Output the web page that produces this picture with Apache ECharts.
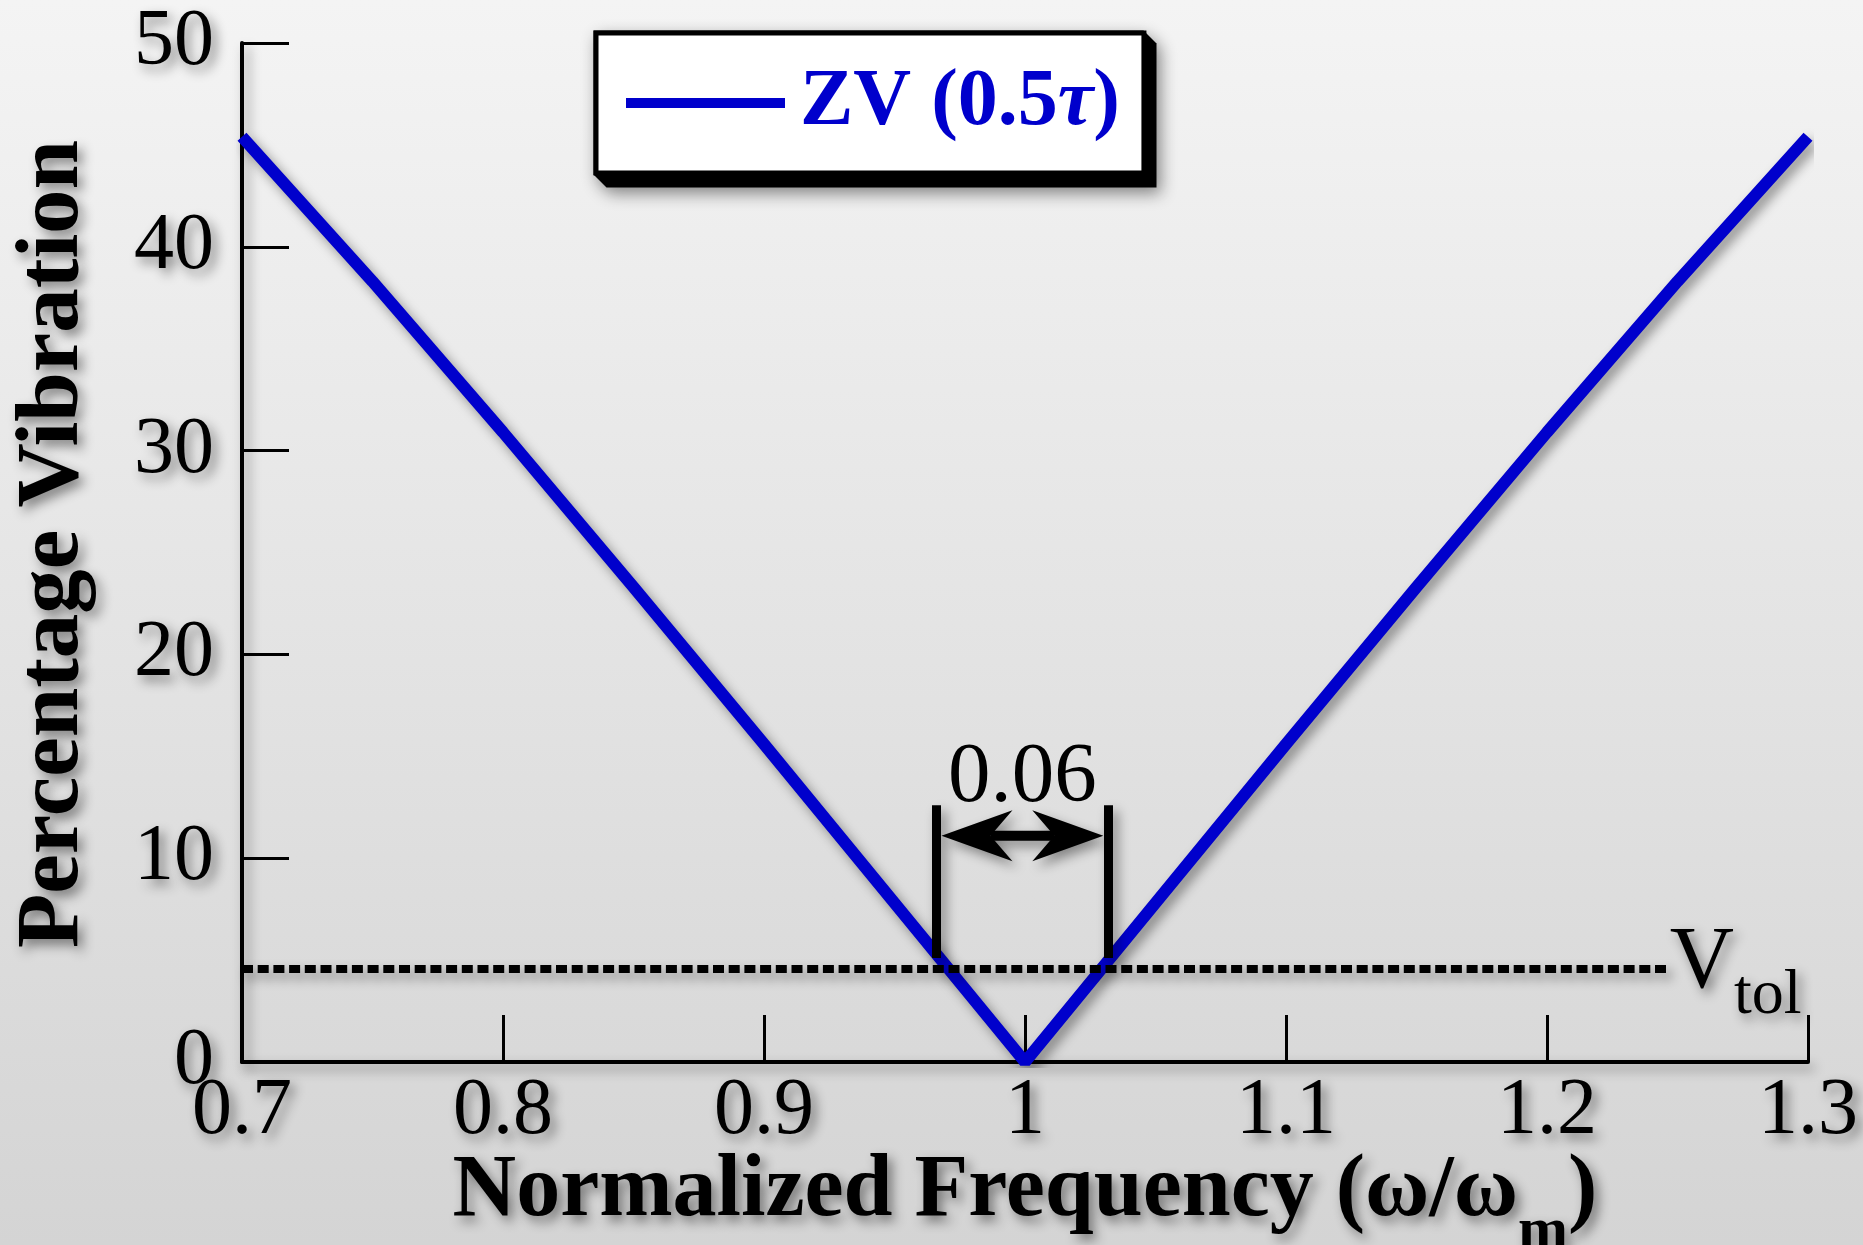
<!DOCTYPE html>
<html>
<head>
<meta charset="utf-8">
<title>ZV residual vibration</title>
<script src="https://cdn.jsdelivr.net/npm/echarts@6/dist/echarts.min.js"></script>
<style>
  html, body { margin: 0; padding: 0; }
  #chart { width: 1863px; height: 1245px; }
</style>
</head>
<body>
<div id="chart"></div>
<script>
// Residual vibration of a ZV input shaper (0.5τ) against normalized frequency
const freq      = [0.70, 0.75, 0.80, 0.85, 0.90, 0.95, 1.00, 1.05, 1.10, 1.15, 1.20, 1.25, 1.30];
const vibration = [45.4, 38.3, 30.9, 23.3, 15.6, 7.8, 0.0, 7.8, 15.6, 23.3, 30.9, 38.3, 45.4];
const seriesName = 'ZV (0.5τ)';

// Vibration tolerance level and the extent of its dashed guide
const vTol = 4.6;
const vTolSpan = [0.70, 1.247];

// Insensitivity band annotation
const bandEdges = [0.966, 1.032];
const bandHeight = [5.1, 12.6];
const arrowTips = [0.968, 1.030];
const arrowLevel = 11.1;
const bandLabel = '0.06';

const BLUE = '#0000cc';
const SERIF = '"Liberation Serif", "Times New Roman", serif';

// Legend box placement and its raised-panel depth
const LEGEND_BOX = { left: 596, top: 33, width: 545, height: 139 };
const LEGEND_DEPTH = 13;

const textShadow = {
  textShadowColor: 'rgba(0,0,0,0.45)',
  textShadowBlur: 12,
  textShadowOffsetX: 5,
  textShadowOffsetY: 6
};
const lineShadow = {
  shadowColor: 'rgba(0,0,0,0.4)',
  shadowBlur: 12,
  shadowOffsetX: 5,
  shadowOffsetY: 6
};

const chart = echarts.init(document.getElementById('chart'));

// Double-headed arrow with notched heads, drawn between two tip positions
function renderArrow(params, api) {
  const a = api.coord([api.value(0), api.value(2)]);
  const b = api.coord([api.value(1), api.value(2)]);
  const headLen = 71, headHalf = 25.5, notch = 49;
  const shade = { shadowColor: 'rgba(0,0,0,0.4)', shadowBlur: 12, shadowOffsetX: 5, shadowOffsetY: 6 };
  const midX = (a[0] + b[0]) / 2;
  return {
    type: 'group',
    children: [
      {
        type: 'line',
        shape: { x1: a[0] + notch, y1: a[1], x2: b[0] - notch, y2: b[1] },
        style: Object.assign({ stroke: '#000', lineWidth: 10 }, shade)
      },
      {
        type: 'polygon',
        shape: { points: [[a[0], a[1]], [a[0] + headLen, a[1] - headHalf], [a[0] + notch, a[1]], [a[0] + headLen, a[1] + headHalf]] },
        style: Object.assign({ fill: '#000' }, shade)
      },
      {
        type: 'polygon',
        shape: { points: [[b[0], b[1]], [b[0] - headLen, b[1] - headHalf], [b[0] - notch, b[1]], [b[0] - headLen, b[1] + headHalf]] },
        style: Object.assign({ fill: '#000' }, shade)
      },
      {
        type: 'text',
        x: midX,
        y: a[1] - 57,
        style: {
          text: bandLabel,
          fontFamily: SERIF,
          fontSize: 85,
          fill: '#000',
          align: 'center',
          verticalAlign: 'middle',
          shadowColor: 'rgba(0,0,0,0.45)',
          shadowBlur: 12,
          shadowOffsetX: 5,
          shadowOffsetY: 6
        }
      }
    ]
  };
}

// Bevelled black extrusion under the legend panel
const lx0 = LEGEND_BOX.left - 2.5, ly0 = LEGEND_BOX.top - 2.5;
const lx1 = LEGEND_BOX.left + LEGEND_BOX.width + 2.5, ly1 = LEGEND_BOX.top + LEGEND_BOX.height + 2.5;
const d = LEGEND_DEPTH;

const option = {
  animation: false,
  backgroundColor: new echarts.graphic.LinearGradient(0, 0, 0, 1, [
    { offset: 0, color: '#f4f4f4' },
    { offset: 1, color: '#d4d4d4' }
  ]),
  grid: { left: 242, right: 55, top: 43, bottom: 183, outerBoundsMode: 'none', containLabel: false },
  graphic: [
    {
      type: 'polygon',
      z: 8,
      silent: true,
      shape: {
        points: [[lx0, ly0], [lx1, ly0], [lx1 + d, ly0 + d], [lx1 + d, ly1 + d], [lx0 + d, ly1 + d], [lx0, ly1]]
      },
      style: { fill: '#000', shadowColor: 'rgba(0,0,0,0.45)', shadowBlur: 16, shadowOffsetX: 4, shadowOffsetY: 6 }
    }
  ],
  legend: {
    left: LEGEND_BOX.left,
    top: LEGEND_BOX.top,
    z: 10,
    padding: [25, 24, 25, 30],
    backgroundColor: '#ffffff',
    borderColor: '#000000',
    borderWidth: 5,
    borderRadius: 0,
    itemWidth: 159,
    itemHeight: 10,
    icon: 'rect',
    selectedMode: false,
    data: [seriesName],
    formatter: () => 'ZV (0.5{tau|τ})',
    textStyle: {
      fontFamily: SERIF,
      fontSize: 80,
      fontWeight: 'bold',
      color: BLUE,
      lineHeight: 90,
      padding: [0, 0, 0, 10],
      rich: {
        tau: { fontFamily: SERIF, fontSize: 80, fontWeight: 'bold', fontStyle: 'italic', color: BLUE, lineHeight: 90 }
      }
    }
  },
  xAxis: {
    type: 'value',
    min: 0.7,
    max: 1.3,
    interval: 0.1,
    axisLine: { show: true, onZero: false, lineStyle: Object.assign({ color: '#000', width: 4 }, lineShadow) },
    axisTick: { show: true, inside: true, length: 47, lineStyle: { color: '#000', width: 3 } },
    splitLine: { show: false },
    axisLabel: Object.assign({
      fontFamily: SERIF, fontSize: 80, color: '#000', margin: 10,
      showMinLabel: true, showMaxLabel: true,
      formatter: v => String(+v.toFixed(2))
    }, textShadow),
    name: 'Normalized Frequency (ω/ω{m|m})',
    nameLocation: 'middle',
    nameGap: 80,
    nameMoveOverlap: false,
    nameTextStyle: Object.assign({
      fontFamily: SERIF, fontSize: 88, fontWeight: 'bold', color: '#000', lineHeight: 100,
      rich: {
        m: Object.assign({ fontFamily: SERIF, fontSize: 60, fontWeight: 'bold', color: '#000', lineHeight: 60, padding: [80, 0, 0, 0] }, textShadow)
      }
    }, textShadow)
  },
  yAxis: {
    type: 'value',
    min: 0,
    max: 50,
    interval: 10,
    axisLine: { show: true, onZero: false, lineStyle: Object.assign({ color: '#000', width: 4 }, lineShadow) },
    axisTick: { show: true, inside: true, length: 47, lineStyle: { color: '#000', width: 3 } },
    splitLine: { show: false },
    axisLabel: Object.assign({
      fontFamily: SERIF, fontSize: 80, color: '#000', margin: 28,
      showMinLabel: true, showMaxLabel: true
    }, textShadow),
    name: 'Percentage Vibration',
    nameLocation: 'middle',
    nameRotate: 90,
    nameGap: 143,
    nameMoveOverlap: false,
    nameTextStyle: Object.assign({
      fontFamily: SERIF, fontSize: 89, fontWeight: 'bold', color: '#000',
      padding: [0, 0, 0, 17]
    }, textShadow)
  },
  series: [
    {
      name: seriesName,
      type: 'line',
      data: freq.map((f, i) => [f, vibration[i]]),
      symbol: 'none',
      showSymbol: false,
      color: BLUE,
      lineStyle: Object.assign({ color: BLUE, width: 12 }, lineShadow),
      z: 2
    },
    {
      // tolerance line and band brackets
      name: 'tolerance',
      type: 'line',
      data: [],
      z: 3,
      markLine: {
        silent: true,
        animation: false,
        symbol: ['none', 'none'],
        lineStyle: Object.assign({ color: '#000', width: 9, type: 'solid' }, lineShadow),
        label: { show: false },
        data: [
          [
            {
              coord: [vTolSpan[0], vTol],
              lineStyle: Object.assign({ color: '#000', width: 8, type: [11, 4.7] }, lineShadow),
              label: {
                show: true,
                position: 'end',
                distance: 0,
                padding: [10, 0, 0, 0],
                formatter: '{v|V}{s|tol}',
                rich: {
                  v: Object.assign({ fontFamily: SERIF, fontSize: 89, color: '#000', lineHeight: 110, padding: [0, 0, 20, 0] }, textShadow),
                  s: Object.assign({ fontFamily: SERIF, fontSize: 64, color: '#000', lineHeight: 64, padding: [46, 0, 0, 0] }, textShadow)
                }
              }
            },
            { coord: [vTolSpan[1], vTol] }
          ],
          [{ coord: [bandEdges[0], bandHeight[0]] }, { coord: [bandEdges[0], bandHeight[1]] }],
          [{ coord: [bandEdges[1], bandHeight[0]] }, { coord: [bandEdges[1], bandHeight[1]] }]
        ]
      }
    },
    {
      // double-headed arrow spanning the band, with its width label
      name: 'band',
      type: 'custom',
      coordinateSystem: 'cartesian2d',
      data: [[arrowTips[0], arrowTips[1], arrowLevel]],
      encode: { x: [0, 1], y: 2 },
      renderItem: renderArrow,
      silent: true,
      z: 4
    }
  ]
};

chart.setOption(option);
</script>
</body>
</html>
